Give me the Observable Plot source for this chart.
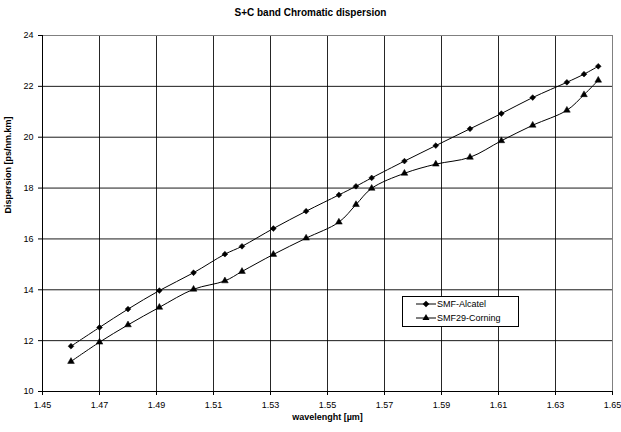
<!DOCTYPE html>
<html>
<head>
<meta charset="utf-8">
<script src="https://cdn.jsdelivr.net/npm/d3@7"></script>
<script src="https://cdn.jsdelivr.net/npm/@observablehq/plot@0.6"></script>
<style>
  body { margin: 0; background: #fff; font-family: "Liberation Sans", Arial, sans-serif; }
  #wrap { position: relative; width: 621px; height: 432px; }
  #title { height: 25px; line-height: 26px; text-align: center; font-weight: bold; font-size: 10px; }
  #legend { position: absolute; left: 402px; top: 296px; width: 115px; height: 29px; border: 1px solid #000; background: #fff; font-size: 9px; }
  #legend .row { display: flex; align-items: center; height: 14px; padding-left: 13px; }
  #legend svg { margin-right: 1px; }
</style>
</head>
<body>
<div id="wrap">
  <div id="title">S+C band Chromatic dispersion</div>
  <div id="chart"></div>
  <div id="legend"></div>
</div>
<script>
const wavelengths = [1.460, 1.470, 1.480, 1.491, 1.503, 1.514, 1.520, 1.531, 1.5425, 1.554, 1.560, 1.5655, 1.577, 1.588, 1.600, 1.611, 1.622, 1.634, 1.640, 1.645];
const alcatel = [11.78, 12.52, 13.24, 13.97, 14.67, 15.40, 15.71, 16.41, 17.09, 17.73, 18.07, 18.40, 19.06, 19.67, 20.33, 20.93, 21.56, 22.16, 22.48, 22.79];
const corning = [11.18, 11.94, 12.62, 13.31, 14.02, 14.35, 14.72, 15.39, 16.03, 16.66, 17.35, 17.99, 18.58, 18.94, 19.21, 19.86, 20.47, 21.06, 21.67, 22.24];
const seriesNames = ["SMF-Alcatel", "SMF29-Corning"];
const xTicks = [1.45, 1.47, 1.49, 1.51, 1.53, 1.55, 1.57, 1.59, 1.61, 1.63, 1.65];
const yTicks = [10, 12, 14, 16, 18, 20, 22, 24];

const dataA = wavelengths.map((w, i) => ({x: w, y: alcatel[i], s: seriesNames[0]}));
const dataC = wavelengths.map((w, i) => ({x: w, y: corning[i], s: seriesNames[1]}));

const chart = Plot.plot({
  width: 621,
  height: 407,
  marginTop: 10,
  marginLeft: 42,
  marginRight: 9,
  marginBottom: 41,
  style: {fontFamily: "Liberation Sans, Arial, sans-serif", fontSize: "9px", color: "#000", background: "#fff"},
  x: {domain: [1.45, 1.65], ticks: xTicks, tickFormat: d3.format(".2f"), label: null, tickSize: 4, tickPadding: 6},
  y: {domain: [10, 24], ticks: yTicks, label: null, tickSize: 4, tickPadding: 5},
  marks: [
    Plot.gridX(xTicks, {stroke: "#000", strokeOpacity: 0.85, strokeWidth: 1}),
    Plot.gridY(yTicks, {stroke: "#000", strokeOpacity: 0.9, strokeWidth: 1}),
    Plot.frame({stroke: "#808080"}),
    Plot.ruleX([1.45], {stroke: "#000", strokeWidth: 1}),
    Plot.ruleY([10], {stroke: "#000", strokeWidth: 1}),
    Plot.axisX({ticks: xTicks, tickFormat: d3.format(".2f"), tickSize: 4, tickPadding: 6, label: null}),
    Plot.axisY({ticks: yTicks, tickSize: 4, tickPadding: 5, label: null}),
    Plot.text(["wavelenght [µm]"], {frameAnchor: "bottom", dy: 28, fontWeight: "bold", fontSize: 9}),
    Plot.text(["Dispersion [ps/nm.km]"], {frameAnchor: "left", rotate: -90, dx: -34, fontWeight: "bold", fontSize: 9}),
    Plot.line(dataA, {x: "x", y: "y", stroke: "#000", strokeWidth: 1, curve: "catmull-rom"}),
    Plot.line(dataC, {x: "x", y: "y", stroke: "#000", strokeWidth: 1, curve: "catmull-rom"}),
    Plot.dot(dataA, {x: "x", y: "y", symbol: "diamond2", r: 2.6, fill: "#000", stroke: "#000", strokeWidth: 0.5}),
    Plot.dot(dataC, {x: "x", y: "y", symbol: "triangle2", r: 3.2, fill: "#000", stroke: "#000", strokeWidth: 0.5})
  ]
});
document.getElementById("chart").appendChild(chart);

const leg = document.getElementById("legend");
const shapes = [d3.symbolDiamond2, d3.symbolTriangle2];
const sizes = [28, 36];
seriesNames.forEach((name, i) => {
  const row = document.createElement("div");
  row.className = "row";
  const svg = d3.create("svg").attr("width", 20).attr("height", 10);
  svg.append("line").attr("x1", 0).attr("x2", 20).attr("y1", 5).attr("y2", 5).attr("stroke", "#000");
  svg.append("path").attr("d", d3.symbol(shapes[i], sizes[i])()).attr("transform", "translate(10,5)").attr("fill", "#000");
  row.appendChild(svg.node());
  const span = document.createElement("span");
  span.textContent = name;
  row.appendChild(span);
  leg.appendChild(row);
});
</script>
</body>
</html>
